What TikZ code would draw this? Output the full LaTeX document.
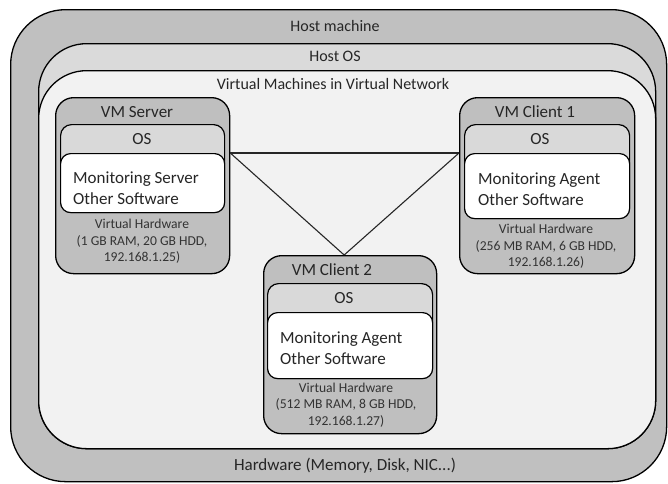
\documentclass[tikz,border=0pt]{standalone}
\usepackage{fontspec}
\setmainfont{Carlito}
\begin{document}
\begin{tikzpicture}[x=1pt,y=-1pt,
  layer/.style={draw=black, line width=1.3pt, rounded corners=#1, anchor=north west, inner sep=0pt},
  bandlabel/.style={font=\fontsize{16}{19}\selectfont, text=black!85, inner sep=0pt},
  vmbox/.style={draw=black, line width=1.3pt, fill=vmgray, rounded corners=18pt, anchor=north west, inner sep=0pt},
  osbox/.style={draw=black, line width=1.2pt, fill=osgray, rounded corners=11pt, anchor=north west, inner sep=0pt},
  swbox/.style={draw=black, line width=1.2pt, fill=white, rounded corners=10pt, anchor=north west, inner sep=0pt},
  vmtitle/.style={font=\fontsize{17}{20}\selectfont, text=black!85, inner sep=0pt},
  swtext/.style={font=\fontsize{17}{21}\selectfont, text=black!85, align=left, anchor=west, inner sep=0pt},
  hwtext/.style={font=\fontsize{13.6}{16.5}\selectfont, text=black!80, align=center, inner sep=0pt},
  link/.style={draw=black!85, line width=1.1pt}
]
\definecolor{hostgray}{HTML}{C0C0C0}
\definecolor{hostos}{HTML}{DADADA}
\definecolor{vnet}{HTML}{F2F2F2}
\definecolor{vmgray}{HTML}{BFBFBF}
\definecolor{osgray}{HTML}{D9D9D9}

\useasboundingbox (0,0) rectangle (668,483);
\fill[white] (0,0) rectangle (668,483);

% nested host layers
\node[layer=55pt, fill=hostgray, minimum width=656pt, minimum height=472pt] (host) at (10,9) {};
\node[layer=48pt, fill=hostos, minimum width=617pt, minimum height=405pt] (hostos) at (38,43) {};
\node[layer=48pt, fill=vnet, minimum width=617pt, minimum height=378pt] (vnet) at (38,70) {};

\node[bandlabel] (lhost) at (335,26) {Host machine};
\node[bandlabel] (lhostos) at (335,56) {Host OS};
\node[bandlabel] (lvnet) at (333,84) {Virtual Machines in Virtual Network};
\node[bandlabel, font=\fontsize{17}{20}\selectfont] (lhw) at (345,466) {Hardware (Memory, Disk, NIC...)};

% VM Server
\node[vmbox, minimum width=174pt, minimum height=176pt] (srv) at (55,97) {};
\node[osbox, minimum width=164pt, minimum height=88pt] (srvos) at (60,124) {};
\node[swbox, minimum width=164pt, minimum height=59pt] (srvsw) at (60,153) {};
\node[vmtitle] (srvt) at (137,112) {VM Server};
\node[vmtitle] (srvost) at (142,139) {OS};
\node[swtext] (srvswt) at (73,188.5) {Monitoring Server\\Other Software};
\node[hwtext] (srvhw) at (142,241.5) {Virtual Hardware\\(1 GB RAM, 20 GB HDD,\\192.168.1.25)};

% VM Client 1
\node[vmbox, minimum width=175pt, minimum height=176pt] (cl1) at (459,97) {};
\node[osbox, minimum width=165pt, minimum height=94pt] (cl1os) at (464,124) {};
\node[swbox, minimum width=165pt, minimum height=65pt] (cl1sw) at (464,153) {};
\node[vmtitle] (cl1t) at (535,112) {VM Client 1};
\node[vmtitle] (cl1ost) at (540,139) {OS};
\node[swtext] (cl1swt) at (478,189) {Monitoring Agent\\Other Software};
\node[hwtext] (cl1hw) at (546,246.5) {Virtual Hardware\\(256 MB RAM, 6 GB HDD,\\192.168.1.26)};

% VM Client 2
\node[vmbox, minimum width=173pt, minimum height=178pt] (cl2) at (263,255) {};
\node[osbox, minimum width=165pt, minimum height=95pt] (cl2os) at (267,283) {};
\node[swbox, minimum width=165pt, minimum height=66pt] (cl2sw) at (267,312) {};
\node[vmtitle] (cl2t) at (332,270) {VM Client 2};
\node[vmtitle] (cl2ost) at (344,298) {OS};
\node[swtext] (cl2swt) at (280,348) {Monitoring Agent\\Other Software};
\node[hwtext] (cl2hw) at (346,405) {Virtual Hardware\\(512 MB RAM, 8 GB HDD,\\192.168.1.27)};

% virtual network links
\coordinate (srvport) at (srvsw.north -| srv.east);
\coordinate (cl1port) at (cl1sw.north -| cl1.west);
\coordinate (cl2port) at ([xshift=-6pt]cl2.north);
\draw[link] (srvport) -- (cl1port);
\draw[link] (srvport) -- (cl2port);
\draw[link] (cl1port) -- (cl2port);
\end{tikzpicture}
\end{document}
